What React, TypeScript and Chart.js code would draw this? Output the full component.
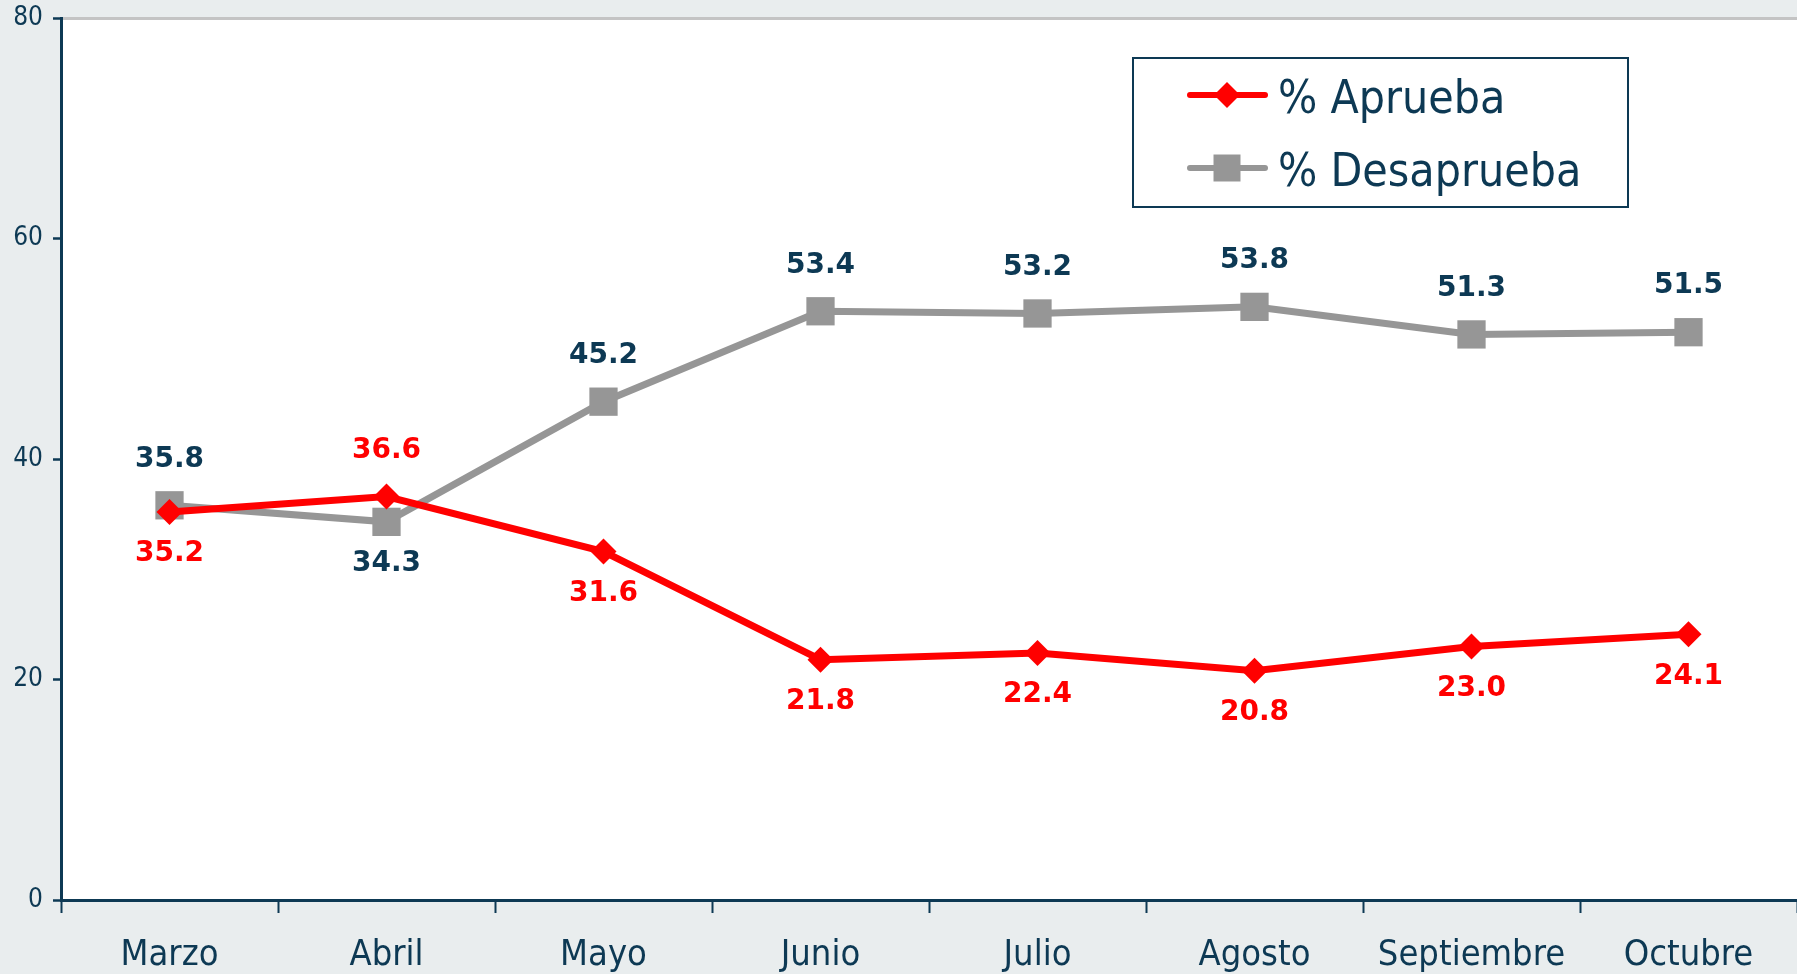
import React, { useEffect, useRef } from "react";
import { Chart, registerables } from "chart.js";

Chart.register(...registerables);

const months = ["Marzo", "Abril", "Mayo", "Junio", "Julio", "Agosto", "Septiembre", "Octubre"];
const aprueba = [35.2, 36.6, 31.6, 21.8, 22.4, 20.8, 23.0, 24.1];
const desaprueba = [35.8, 34.3, 45.2, 53.4, 53.2, 53.8, 51.3, 51.5];
const seriesNames = ["% Aprueba", "% Desaprueba"];
const yTicks = [0, 20, 40, 60, 80];

const NAVY = "#0d3954";
const RED = "#ff0000";
const GRAY = "#969696";
const BG = "#e9edee";
const FONT = '"DejaVu Sans Condensed", "DejaVu Sans", sans-serif';
const BOLD_FONT = '"DejaVu Sans", sans-serif';

const bgPlugin = {
  id: "bgPlugin",
  beforeDraw(chart: any) {
    const { ctx, chartArea } = chart;
    ctx.save();
    ctx.fillStyle = BG;
    ctx.fillRect(0, 0, chart.width, chart.height);
    ctx.fillStyle = "#ffffff";
    ctx.fillRect(chartArea.left, chartArea.top, chartArea.right - chartArea.left, chartArea.bottom - chartArea.top);
    ctx.restore();
  },
};

const labelPlugin = {
  id: "labelPlugin",
  afterDatasetsDraw(chart: any) {
    const { ctx } = chart;
    const colors = [RED, NAVY];
    ctx.save();
    ctx.font = `bold 28px ${BOLD_FONT}`;
    ctx.textAlign = "center";
    ctx.textBaseline = "middle";
    chart.data.datasets.forEach((ds: any, di: number) => {
      const other = chart.data.datasets[1 - di].data;
      const meta = chart.getDatasetMeta(di);
      meta.data.forEach((pt: any, i: number) => {
        const v = ds.data[i];
        const above = v > other[i];
        const y = above ? pt.y - 46 : pt.y + 42;
        ctx.fillStyle = colors[di];
        ctx.fillText(v.toFixed(1), pt.x, y);
      });
    });
    ctx.restore();
  },
};

const legendPlugin = {
  id: "legendPlugin",
  afterDraw(chart: any) {
    const { ctx } = chart;
    const bx = 1133, by = 58, bw = 495, bh = 149;
    ctx.save();
    ctx.fillStyle = "#ffffff";
    ctx.fillRect(bx, by, bw, bh);
    ctx.strokeStyle = NAVY;
    ctx.lineWidth = 2;
    ctx.strokeRect(bx, by, bw, bh);
    const rows = [
      { y: 95, color: RED, style: "diamond" },
      { y: 168, color: GRAY, style: "square" },
    ];
    rows.forEach((r, i) => {
      ctx.strokeStyle = r.color;
      ctx.lineWidth = 6;
      ctx.lineCap = "round";
      ctx.beginPath();
      ctx.moveTo(1190, r.y);
      ctx.lineTo(1265, r.y);
      ctx.stroke();
      ctx.fillStyle = r.color;
      ctx.beginPath();
      if (r.style === "diamond") {
        const s = 13;
        ctx.moveTo(1227, r.y - s);
        ctx.lineTo(1227 + s, r.y);
        ctx.lineTo(1227, r.y + s);
        ctx.lineTo(1227 - s, r.y);
        ctx.closePath();
      } else {
        ctx.rect(1227 - 13.5, r.y - 13.5, 27, 27);
      }
      ctx.fill();
      ctx.fillStyle = NAVY;
      ctx.font = `46px ${FONT}`;
      ctx.textAlign = "left";
      ctx.textBaseline = "alphabetic";
      ctx.fillText(seriesNames[i], 1278, r.y + 18);
    });
    ctx.restore();
  },
};

export default function App() {
  const ref = useRef<HTMLCanvasElement>(null);
  useEffect(() => {
    document.body.style.margin = "0";
    const canvas = ref.current!;
    const chart = new Chart(canvas, {
      type: "line",
      data: {
        labels: months,
        datasets: [
          {
            label: seriesNames[0],
            data: aprueba,
            borderColor: RED,
            backgroundColor: RED,
            borderWidth: 7,
            pointStyle: "rectRot",
            pointRadius: 13,
            pointHoverRadius: 13,
            pointBorderWidth: 0,
            tension: 0,
          },
          {
            label: seriesNames[1],
            data: desaprueba,
            borderColor: GRAY,
            backgroundColor: GRAY,
            borderWidth: 7,
            pointStyle: "rect",
            pointRadius: 20,
            pointHoverRadius: 20,
            pointBorderWidth: 0,
            tension: 0,
          },
        ],
      },
      options: {
        responsive: false,
        animation: false,
        devicePixelRatio: 1,
        layout: { autoPadding: false, padding: { top: 18, left: 0, right: 0, bottom: 0 } },
        plugins: {
          legend: { display: false },
          tooltip: { enabled: false },
        },
        scales: {
          x: {
            offset: true,
            grid: {
              offset: true,
              drawOnChartArea: false,
              tickLength: 13,
              tickColor: NAVY,
              tickWidth: 2,
            },
            border: { color: NAVY, width: 3 },
            ticks: {
              color: NAVY,
              font: { family: FONT, size: 36 },
              padding: 21,
              maxRotation: 0,
              autoSkip: false,
            },
            afterFit: (s: any) => {
              s.height = 74;
              s.paddingLeft = 0;
              s.paddingRight = 0;
            },
          },
          y: {
            min: 0,
            max: 80,
            afterBuildTicks: (s: any) => {
              s.ticks = yTicks.map((v) => ({ value: v }));
            },
            grid: {
              color: (c: any) => (c.tick && c.tick.value === 80 ? "#c4c4c4" : "rgba(0,0,0,0)"),
              lineWidth: 3,
              tickLength: 8,
              tickColor: NAVY,
              tickWidth: 2.5,
            },
            border: { color: NAVY, width: 3 },
            ticks: {
              color: NAVY,
              font: { family: FONT, size: 26 },
              padding: 10,
            },
            afterFit: (s: any) => {
              s.width = 61;
              s.paddingTop = 0;
              s.paddingBottom = 0;
            },
          },
        },
      },
      plugins: [bgPlugin, labelPlugin, legendPlugin],
    });
    return () => chart.destroy();
  }, []);
  return <canvas ref={ref} width={1797} height={974} style={{ display: "block" }} />;
}
